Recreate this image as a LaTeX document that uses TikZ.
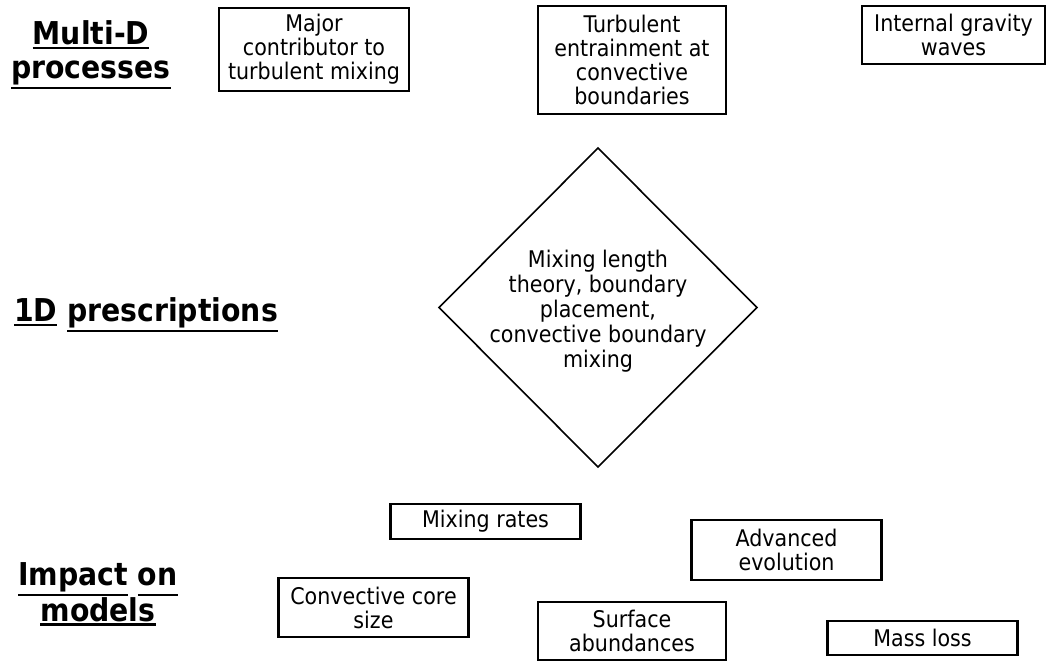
\documentclass[tikz,border=0pt]{standalone}
\usepackage{fontspec}
\setmainfont{DejaVu Sans}[FakeStretch=0.9]
\newcommand\ulword[1]{\leavevmode\vtop{\hbox{#1}\kern1.4pt\hrule height 1.6pt}}
\tikzset{
  box/.style={draw, line width=2pt, align=center, inner sep=0pt,
    minimum width=142.5pt, font=\fontsize{17.2}{18}\selectfont},
  head/.style={align=center, font=\bfseries\fontsize{23.6}{25.5}\selectfont},
}
\begin{document}
\begin{tikzpicture}[x=0.75pt, y=-0.75pt]
    \useasboundingbox (0,0) rectangle (1048,661);
    % row headings
    \node[head] (multid) at (91,55) {\ulword{Multi-D}\\\ulword{processes}};
    \node[head] (oned) at (146,315) {\ulword{1D} \ulword{prescriptions}};
    \node[head] (impact) at (98,594) {\ulword{Impact} \ulword{on\vphantom{p}}\\\ulword{models}};
    % multi-D processes
    \node[box, minimum height=62.25pt] (major) at (314,49.5) {Major\\contributor to\\turbulent mixing};
    \node[box, minimum height=81pt, minimum width=141pt] (entrain) at (632,60) {Turbulent\\entrainment at\\convective\\boundaries};
    \node[box, minimum height=43.5pt, minimum width=137.25pt] (igw) at (953.5,35) {Internal gravity\\waves};
    % 1D prescription
    \draw[line width=1.2pt] (598,148) -- (757,307.5) -- (598,467) -- (439,307.5) -- cycle;
    \node[align=center, font=\fontsize{17.2}{18.75}\selectfont] (mlt) at (598,311)
      {Mixing length\\theory, boundary\\placement,\\convective boundary\\mixing};
    % impact on models
    \node[box, minimum height=26.25pt] (rates) at (485.5,521.5) {Mixing rates};
    \node[box, minimum height=45pt] (advanced) at (786.5,550) {Advanced\\evolution};
    \node[box, minimum height=44.25pt] (core) at (373.5,607.5) {Convective core\\size};
    \node[box, minimum height=43.5pt, minimum width=141pt] (surface) at (632,631) {Surface\\abundances};
    \node[box, minimum height=25.5pt] (massloss) at (922.5,638) {Mass loss};
\end{tikzpicture}
\end{document}
